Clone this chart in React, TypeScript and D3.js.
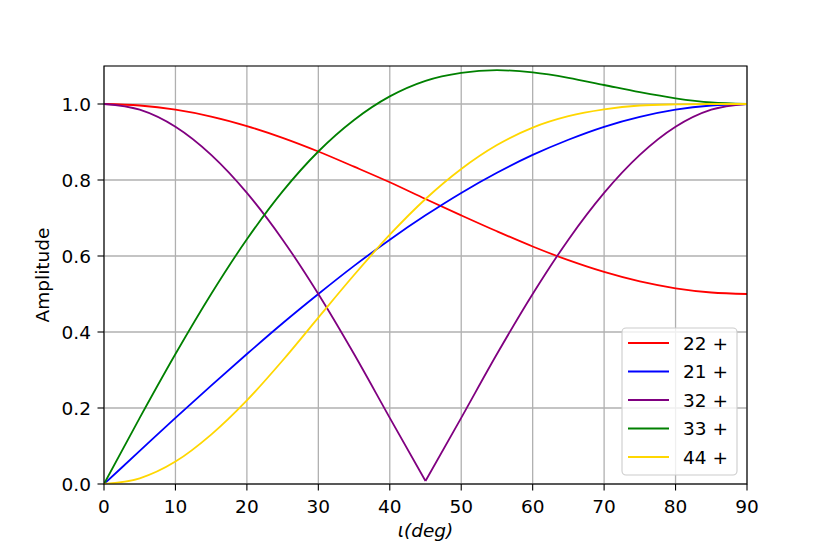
import React from "react";
import * as d3 from "d3";

const inclination = [0, 5, 10, 15, 20, 25, 30, 35, 40, 45, 50, 55, 60, 65, 70, 75, 80, 85, 90];
const amp22 = [1.0, 0.996, 0.985, 0.967, 0.942, 0.911, 0.875, 0.835, 0.794, 0.75, 0.707, 0.665, 0.625, 0.589, 0.558, 0.533, 0.515, 0.504, 0.5];
const amp21 = [0.0, 0.087, 0.174, 0.259, 0.342, 0.423, 0.5, 0.574, 0.643, 0.707, 0.766, 0.819, 0.866, 0.906, 0.94, 0.966, 0.985, 0.996, 1.0];
const amp32 = [1.0, 0.985, 0.94, 0.866, 0.766, 0.643, 0.5, 0.342, 0.174, 0.008, 0.174, 0.342, 0.5, 0.643, 0.766, 0.866, 0.94, 0.985, 1.0];
const amp33 = [0.0, 0.174, 0.342, 0.5, 0.644, 0.77, 0.875, 0.958, 1.02, 1.061, 1.082, 1.089, 1.083, 1.069, 1.05, 1.031, 1.015, 1.004, 1.0];
const amp44 = [0.0, 0.015, 0.059, 0.13, 0.22, 0.325, 0.438, 0.55, 0.656, 0.75, 0.829, 0.892, 0.938, 0.968, 0.986, 0.996, 0.999, 1.0, 1.0];

const seriesLabels = ["22 +", "21 +", "32 +", "33 +", "44 +"];
const seriesValues = [amp22, amp21, amp32, amp33, amp44];
const seriesColors = ["#ff0000", "#0000ff", "#800080", "#008000", "#ffd700"];

const xTicks = [0, 10, 20, 30, 40, 50, 60, 70, 80, 90];
const yTicks = [0.0, 0.2, 0.4, 0.6, 0.8, 1.0];

const W = 830, H = 554;
const L = 104, R = 747, T = 66, B = 484;
const FONT = "'DejaVu Sans', sans-serif";
const FS = 18.5;

export default function App() {
  const x = d3.scaleLinear().domain([0, 90]).range([L, R]);
  const y = d3.scaleLinear().domain([0, 1.1]).range([B, T]);
  const line = d3
    .line<[number, number]>()
    .x((d) => x(d[0]))
    .y((d) => y(d[1]))
    .curve(d3.curveMonotoneX);

  // split series at sharp minima (cusp) so the V stays sharp
  const paths = seriesValues.map((vals) => {
    const pts: [number, number][] = inclination.map((t, i) => [t, vals[i]]);
    const segs: [number, number][][] = [];
    let start = 0;
    for (let i = 1; i < pts.length - 1; i++) {
      if (vals[i] < vals[i - 1] && vals[i] < vals[i + 1] && vals[i] < 0.05) {
        segs.push(pts.slice(start, i + 1));
        start = i;
      }
    }
    segs.push(pts.slice(start));
    return segs.map((s) => line(s) || "").join(" ");
  });

  const legX = 622, legY = 328, legW = 115, legH = 147;
  const rowY = (i: number) => 343 + i * 28.5;

  return (
    <svg
      width={W}
      height={H}
      style={{ position: "absolute", left: 0, top: 0, background: "#fff" }}
      fontFamily={FONT}
    >
      <rect x={0} y={0} width={W} height={H} fill="#fff" />
      <defs>
        <clipPath id="plotclip">
          <rect x={L} y={T} width={R - L} height={B - T} />
        </clipPath>
      </defs>
      {/* grid */}
      {xTicks.map((t) => (
        <line key={"gx" + t} x1={x(t)} x2={x(t)} y1={T} y2={B} stroke="#b0b0b0" strokeWidth={1.3} />
      ))}
      {yTicks.map((t) => (
        <line key={"gy" + t} x1={L} x2={R} y1={y(t)} y2={y(t)} stroke="#b0b0b0" strokeWidth={1.3} />
      ))}
      {/* curves */}
      <g clipPath="url(#plotclip)">
        {paths.map((d, i) => (
          <path key={i} d={d} fill="none" stroke={seriesColors[i]} strokeWidth={1.8} strokeLinejoin="round" />
        ))}
      </g>
      {/* frame */}
      <rect x={L} y={T} width={R - L} height={B - T} fill="none" stroke="#000" strokeWidth={1.1} />
      {/* x ticks */}
      {xTicks.map((t) => (
        <g key={"xt" + t}>
          <line x1={x(t)} x2={x(t)} y1={B} y2={B + 6.5} stroke="#000" strokeWidth={1.1} />
          <text x={x(t)} y={B + 29} fontSize={FS} textAnchor="middle" fill="#000">
            {t}
          </text>
        </g>
      ))}
      {/* y ticks */}
      {yTicks.map((t) => (
        <g key={"yt" + t}>
          <line x1={L - 6.5} x2={L} y1={y(t)} y2={y(t)} stroke="#000" strokeWidth={1.1} />
          <text x={L - 13} y={y(t)} dy="0.36em" fontSize={FS} textAnchor="end" fill="#000">
            {t.toFixed(1)}
          </text>
        </g>
      ))}
      {/* axis labels */}
      <text x={(L + R) / 2} y={537} fontSize={FS} textAnchor="middle" fontStyle="italic" fill="#000">
        ι(deg)
      </text>
      <text
        transform={`translate(49,${(T + B) / 2}) rotate(-90)`}
        fontSize={FS}
        textAnchor="middle"
        fill="#000"
      >
        Amplitude
      </text>
      {/* legend */}
      <rect
        x={legX}
        y={legY}
        width={legW}
        height={legH}
        rx={4}
        fill="#fff"
        fillOpacity={0.8}
        stroke="#cccccc"
        strokeWidth={1.1}
      />
      {seriesLabels.map((lab, i) => (
        <g key={lab}>
          <line x1={628} x2={669} y1={rowY(i)} y2={rowY(i)} stroke={seriesColors[i]} strokeWidth={1.8} />
          <text x={683} y={rowY(i)} dy="0.36em" fontSize={FS} fill="#000">
            {lab}
          </text>
        </g>
      ))}
    </svg>
  );
}
